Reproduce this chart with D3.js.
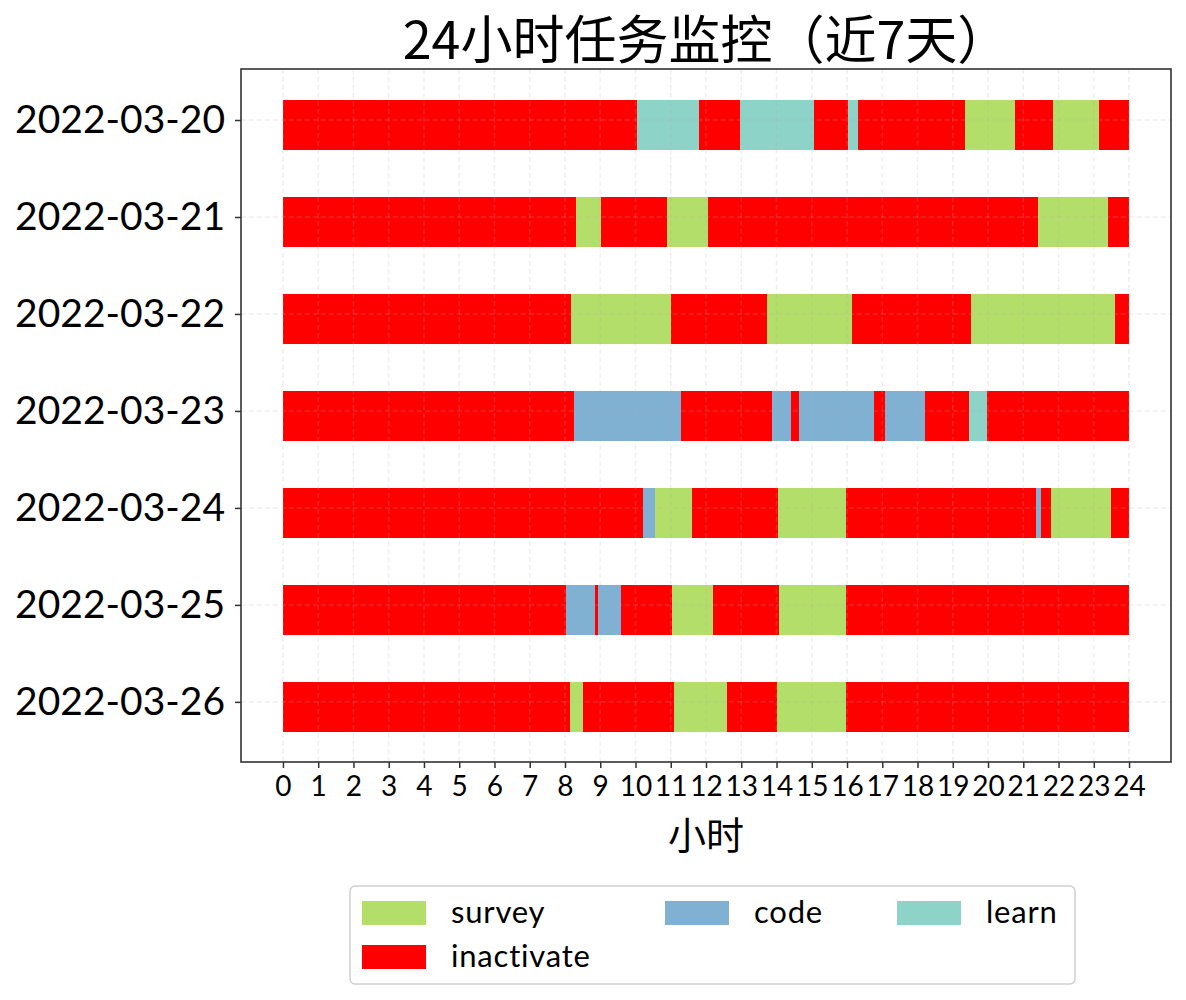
<!DOCTYPE html>
<html>
<head>
<meta charset="utf-8">
<script src="https://cdn.jsdelivr.net/npm/d3@7"></script>
<style>
  html, body { margin: 0; padding: 0; background: #fff; }
  svg { display: block; }
</style>
</head>
<body>
<svg id="chart" width="1186" height="1000"></svg>
<script>
// ---------- data ----------
const title = "24小时任务监控（近7天）";
const xLabel = "小时";
const dates = ["2022-03-20", "2022-03-21", "2022-03-22", "2022-03-23", "2022-03-24", "2022-03-25", "2022-03-26"];
const tasks = ["survey", "code", "learn", "inactivate"];
const hourTicks = d3.range(0, 25);

// [start hour, end hour, task] per day
const day0320 = [[0, 10.03, "inactivate"], [10.03, 11.79, "learn"], [11.79, 12.97, "inactivate"], [12.97, 15.07, "learn"],
  [15.07, 16.04, "inactivate"], [16.04, 16.32, "learn"], [16.32, 19.34, "inactivate"], [19.34, 20.76, "survey"],
  [20.76, 21.84, "inactivate"], [21.84, 23.14, "survey"], [23.14, 24, "inactivate"]];
const day0321 = [[0, 8.30, "inactivate"], [8.30, 9.01, "survey"], [9.01, 10.90, "inactivate"], [10.90, 12.06, "survey"],
  [12.06, 21.41, "inactivate"], [21.41, 23.39, "survey"], [23.39, 24, "inactivate"]];
const day0322 = [[0, 8.17, "inactivate"], [8.17, 11.00, "survey"], [11.00, 13.72, "inactivate"], [13.72, 16.15, "survey"],
  [16.15, 19.52, "inactivate"], [19.52, 23.60, "survey"], [23.60, 24, "inactivate"]];
const day0323 = [[0, 8.25, "inactivate"], [8.25, 11.28, "code"], [11.28, 13.86, "inactivate"], [13.86, 14.40, "code"],
  [14.40, 14.65, "inactivate"], [14.65, 16.77, "code"], [16.77, 17.08, "inactivate"], [17.08, 18.21, "code"],
  [18.21, 19.45, "inactivate"], [19.45, 19.98, "learn"], [19.98, 24, "inactivate"]];
const day0324 = [[0, 10.20, "inactivate"], [10.20, 10.54, "code"], [10.54, 11.59, "survey"], [11.59, 14.05, "inactivate"],
  [14.05, 15.97, "survey"], [15.97, 21.36, "inactivate"], [21.36, 21.50, "code"], [21.50, 21.79, "inactivate"],
  [21.79, 23.49, "survey"], [23.49, 24, "inactivate"]];
const day0325 = [[0, 8.04, "inactivate"], [8.04, 8.84, "code"], [8.84, 8.95, "inactivate"], [8.95, 9.58, "code"],
  [9.58, 11.03, "inactivate"], [11.03, 12.19, "survey"], [12.19, 14.08, "inactivate"], [14.08, 15.97, "survey"],
  [15.97, 24, "inactivate"]];
const day0326 = [[0, 8.14, "inactivate"], [8.14, 8.52, "survey"], [8.52, 11.08, "inactivate"], [11.08, 12.60, "survey"],
  [12.60, 14.01, "inactivate"], [14.01, 15.98, "survey"], [15.98, 24, "inactivate"]];
const schedule = [day0320, day0321, day0322, day0323, day0324, day0325, day0326];

// ---------- styles ----------
const colorOf = d3.scaleOrdinal().domain(tasks).range(["#b3de69", "#80b1d3", "#8dd3c7", "#ff0000"]);
const latin = "Lato, 'Noto Sans', sans-serif";
const cjk = "'Noto Sans CJK SC', sans-serif";

// ---------- layout ----------
const svg = d3.select("#chart");
const L = 241, R = 1171, T = 69, B = 762;
const x = d3.scaleLinear().domain([-1.19, 25.19]).range([L, R]);
const y = d3.scaleLinear().domain([-0.526, dates.length - 1 + 0.62]).range([T, B]);
const step = y(1) - y(0);
const barTop = -0.206 * step, barH = 0.515 * step;

// bars
const rows = svg.append("g").selectAll("g").data(schedule).join("g");
rows.selectAll("rect").data((d, i) => d.map(s => ({ s, i }))).join("rect")
  .attr("x", d => x(d.s[0]))
  .attr("width", d => x(d.s[1]) - x(d.s[0]))
  .attr("y", d => y(d.i) + barTop)
  .attr("height", barH)
  .attr("fill", d => colorOf(d.s[2]))
  .attr("shape-rendering", "crispEdges");

// grid (on top, translucent)
const grid = svg.append("g").attr("stroke", "#b0b0b0").attr("stroke-opacity", 0.2)
  .attr("stroke-width", 1.5).attr("stroke-dasharray", "5,3");
grid.selectAll(".gx").data(hourTicks).join("line")
  .attr("x1", d => x(d)).attr("x2", d => x(d)).attr("y1", T).attr("y2", B);
grid.selectAll(".gy").data(dates).join("line")
  .attr("y1", (d, i) => y(i)).attr("y2", (d, i) => y(i)).attr("x1", L).attr("x2", R);

// axes
const xAxis = d3.axisBottom(x).tickValues(hourTicks).tickFormat(d3.format("d")).tickSize(6).tickPadding(8);
const gx = svg.append("g").attr("transform", `translate(0,${B})`).call(xAxis);
gx.select(".domain").remove();
gx.selectAll(".tick line").attr("stroke", "#333").attr("stroke-width", 1.5);
gx.selectAll(".tick text").attr("fill", "#000").style("font-family", latin).style("font-size", "28px");

const yAxis = d3.axisLeft(y).tickValues(d3.range(dates.length)).tickFormat(i => dates[i]).tickSize(6).tickPadding(10);
const gy = svg.append("g").attr("transform", `translate(${L},0)`).call(yAxis);
gy.select(".domain").remove();
gy.selectAll(".tick line").attr("stroke", "#333").attr("stroke-width", 1.5);
gy.selectAll(".tick text").attr("fill", "#000").style("font-family", latin).style("font-size", "39px");

// frame
svg.append("rect").attr("x", L).attr("y", T).attr("width", R - L).attr("height", B - T)
  .attr("fill", "none").attr("stroke", "#333").attr("stroke-width", 1.6);

// title & x label
svg.append("text").attr("x", (L + R) / 2).attr("y", 59).attr("text-anchor", "middle")
  .style("font-family", cjk).style("font-size", "52px").attr("fill", "#000").text(title);
svg.append("text").attr("x", (L + R) / 2).attr("y", 849).attr("text-anchor", "middle")
  .style("font-family", cjk).style("font-size", "38px").attr("fill", "#000").text(xLabel);

// legend
const lg = svg.append("g");
lg.append("rect").attr("x", 350).attr("y", 886).attr("width", 725).attr("height", 98).attr("rx", 5)
  .attr("fill", "#fff").attr("stroke", "#d0d0d0").attr("stroke-width", 1.5);
const legendPos = [[362, 901], [665, 901], [897, 901], [362, 945]];
const li = lg.selectAll(".li").data(tasks).join("g").attr("transform", (d, i) => `translate(${legendPos[i][0]},${legendPos[i][1]})`);
li.append("rect").attr("width", 64).attr("height", 24).attr("fill", d => colorOf(d));
li.append("text").attr("x", 89).attr("y", 22).style("font-family", latin).style("font-size", "31px")
  .style("letter-spacing", "0.8px").attr("fill", "#000").text(d => d);
</script>
</body>
</html>
